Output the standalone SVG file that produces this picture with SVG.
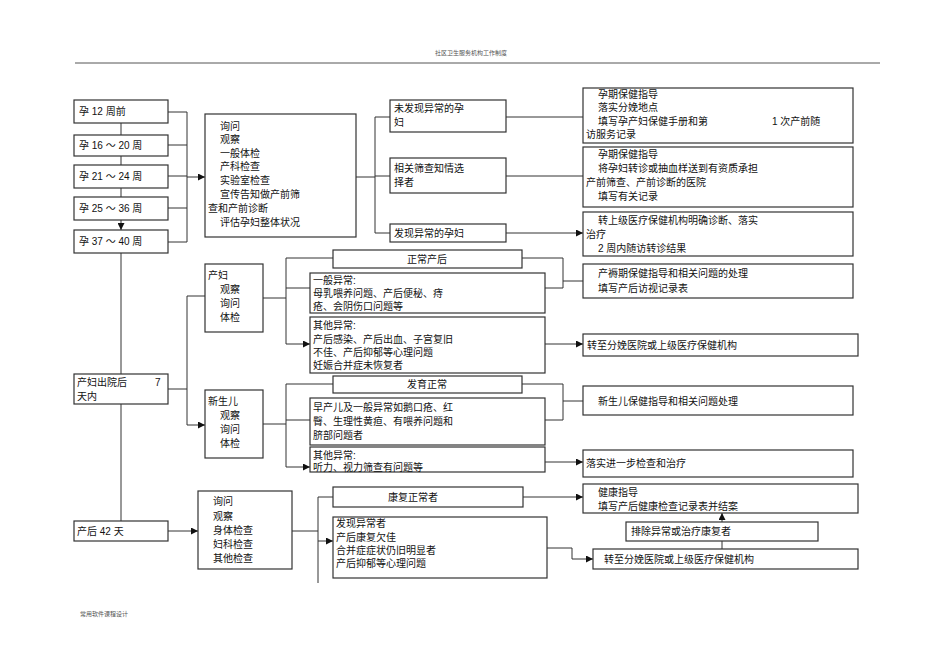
<svg xmlns="http://www.w3.org/2000/svg" width="950" height="672" viewBox="0 0 950 672">
<style>
rect{fill:#fff;stroke:#333;stroke-width:1.2}
text{font-family:"Liberation Sans","Noto Sans CJK SC",sans-serif;font-size:10px;fill:#111}
.c path{fill:none;stroke:#333;stroke-width:1}
.s{font-size:6px;fill:#555}
</style>
<defs><marker id="a" viewBox="0 0 10 10" refX="10" refY="5" markerWidth="9" markerHeight="7" markerUnits="userSpaceOnUse" orient="auto"><path d="M0,0L10,5L0,10z" fill="#111"/></marker></defs>
<rect width="950" height="672" style="fill:#fff;stroke:none"/>
<text class="s" x="435" y="55">社区卫生服务机构工作制度</text>
<path d="M75 63H880" stroke="#555" stroke-width="1"/>
<text class="s" x="80" y="616">常用软件课程设计</text>
<g class="c">
<path d="M121 123V135M121 156V165M121 188V197M121 220V230" marker-end="url(#a)"/>
<path d="M168 112H187M168 145H187M168 176H187M168 208H187M168 242H187M187 112V242"/>
<path d="M187 177H205" marker-end="url(#a)"/>
<path d="M356 177H375M375 117V233"/>
<path d="M375 117H390M375 176H390M375 233H390M506 117H583M506 176H583M506 233H583" marker-end="url(#a)"/>
<path d="M121 253V374M121 404V521M168 531H198" marker-end="url(#a)"/>
<path d="M168 389H187M187 296V425"/>
<path d="M187 296H205M187 425H205" marker-end="url(#a)"/>
<path d="M263 298H286M286 258V344"/>
<path d="M286 258H333M286 288H310M286 344H310" marker-end="url(#a)"/>
<path d="M522 258H563V288H545M563 281H583M545 344H583" marker-end="url(#a)"/>
<path d="M263 424H286M286 384V467"/>
<path d="M286 384H333M286 420H310M286 467H310" marker-end="url(#a)"/>
<path d="M522 384H563V420H545M563 401H583M545 462H583" marker-end="url(#a)"/>
<path d="M292 531H318M318 497V583"/>
<path d="M318 497H333M318 541H333" marker-end="url(#a)"/>
<path d="M523 497H583" marker-end="url(#a)"/>
<path d="M547 548H572V559H593" marker-end="url(#a)"/>
<path d="M722 549V541M722 522V513" marker-end="url(#a)"/>
</g>
<g id="n1"><rect x="74" y="100" width="94" height="23"/><text x="79" y="115">孕  12  周前</text></g>
<g id="n2"><rect x="74" y="135" width="94" height="21"/><text x="79" y="149">孕  16  ～  20  周</text></g>
<g id="n3"><rect x="74" y="165" width="94" height="23"/><text x="79" y="180">孕  21  ～  24  周</text></g>
<g id="n4"><rect x="74" y="197" width="94" height="23"/><text x="79" y="212">孕  25  ～  36  周</text></g>
<g id="n5"><rect x="74" y="230" width="94" height="23"/><text x="79" y="245">孕  37  ～  40  周</text></g>
<g id="n6"><rect x="205" y="114" width="151" height="123"/><text x="220" y="130">询问</text><text x="220" y="143">观察</text><text x="220" y="157">一般体检</text><text x="220" y="170">产科检查</text><text x="220" y="184">实验室检查</text><text x="220" y="198">宣传告知做产前筛</text><text x="208" y="212">查和产前诊断</text><text x="220" y="226">评估孕妇整体状况</text></g>
<g id="n7"><rect x="390" y="100" width="116" height="32"/><text x="394" y="112">未发现异常的孕</text><text x="394" y="126">妇</text></g>
<g id="n8"><rect x="390" y="158" width="116" height="35"/><text x="394" y="172">相关筛查知情选</text><text x="394" y="186">择者</text></g>
<g id="n9"><rect x="390" y="224" width="116" height="18"/><text x="394" y="237">发现异常的孕妇</text></g>
<g id="n10"><rect x="583" y="88" width="270" height="55"/><text x="598" y="98">孕期保健指导</text><text x="598" y="111">落实分娩地点</text><text x="598" y="125">填写孕产妇保健手册和第</text><text x="772" y="125">1 次产前随</text><text x="586" y="138">访服务记录</text></g>
<g id="n11"><rect x="583" y="147" width="270" height="60"/><text x="598" y="158">孕期保健指导</text><text x="598" y="172">将孕妇转诊或抽血样送到有资质承担</text><text x="586" y="186">产前筛查、产前诊断的医院</text><text x="598" y="200">填写有关记录</text></g>
<g id="n12"><rect x="583" y="212" width="270" height="44"/><text x="598" y="224">转上级医疗保健机构明确诊断、落实</text><text x="586" y="238">治疗</text><text x="598" y="252">2 周内随访转诊结果</text></g>
<g id="n13"><rect x="74" y="374" width="94" height="30"/><text x="77" y="386">产妇出院后</text><text x="155" y="386">7</text><text x="77" y="400">天内</text></g>
<g id="n14"><rect x="205" y="264" width="58" height="68"/><text x="208" y="279">产妇</text><text x="220" y="293">观察</text><text x="220" y="307">询问</text><text x="220" y="321">体检</text></g>
<g id="n15"><rect x="205" y="390" width="58" height="68"/><text x="208" y="405">新生儿</text><text x="220" y="419">观察</text><text x="220" y="433">询问</text><text x="220" y="447">体检</text></g>
<g id="n16"><rect x="333" y="250" width="189" height="18"/><text x="427" y="263" text-anchor="middle">正常产后</text></g>
<g id="n17"><rect x="310" y="273" width="235" height="40"/><text x="313" y="284">一般异常:</text><text x="313" y="297">母乳喂养问题、产后便秘、痔</text><text x="313" y="310">疮、会阴伤口问题等</text></g>
<g id="n18"><rect x="310" y="317" width="235" height="56"/><text x="313" y="329">其他异常:</text><text x="313" y="343">产后感染、产后出血、子宫复旧</text><text x="313" y="356">不佳、产后抑郁等心理问题</text><text x="313" y="369">妊娠合并症未恢复者</text></g>
<g id="n19"><rect x="583" y="264" width="270" height="34"/><text x="598" y="277">产褥期保健指导和相关问题的处理</text><text x="598" y="292">填写产后访视记录表</text></g>
<g id="n20"><rect x="583" y="334" width="275" height="22"/><text x="587" y="349">转至分娩医院或上级医疗保健机构</text></g>
<g id="n21"><rect x="333" y="376" width="189" height="17"/><text x="427" y="388" text-anchor="middle">发育正常</text></g>
<g id="n22"><rect x="310" y="398" width="235" height="47"/><text x="313" y="411">早产儿及一般异常如鹅口疮、红</text><text x="313" y="425">臀、生理性黄疸、有喂养问题和</text><text x="313" y="439">脐部问题者</text></g>
<g id="n23"><rect x="310" y="447" width="235" height="25"/><text x="313" y="459">其他异常:</text><text x="313" y="471">听力、视力筛查有问题等</text></g>
<g id="n24"><rect x="583" y="386" width="270" height="29"/><text x="598" y="405">新生儿保健指导和相关问题处理</text></g>
<g id="n25"><rect x="583" y="450" width="270" height="27"/><text x="586" y="467">落实进一步检查和治疗</text></g>
<g id="n26"><rect x="74" y="521" width="94" height="20"/><text x="77" y="535">产后    42  天</text></g>
<g id="n27"><rect x="198" y="491" width="94" height="78"/><text x="213" y="505">询问</text><text x="213" y="520">观察</text><text x="213" y="534">身体检查</text><text x="213" y="548">妇科检查</text><text x="213" y="562">其他检查</text></g>
<g id="n28"><rect x="333" y="487" width="190" height="20"/><text x="388" y="501">康复正常者</text></g>
<g id="n29"><rect x="333" y="517" width="214" height="61"/><text x="336" y="527">发现异常者</text><text x="336" y="541">产后康复欠佳</text><text x="336" y="554">合并症症状仍旧明显者</text><text x="336" y="567">产后抑郁等心理问题</text></g>
<g id="n30"><rect x="583" y="484" width="275" height="29"/><text x="598" y="496">健康指导</text><text x="598" y="510">填写产后健康检查记录表并结案</text></g>
<g id="n31"><rect x="626" y="522" width="192" height="19"/><text x="631" y="535">排除异常或治疗康复者</text></g>
<g id="n32"><rect x="593" y="549" width="265" height="20"/><text x="604" y="563">转至分娩医院或上级医疗保健机构</text></g>
</svg>
